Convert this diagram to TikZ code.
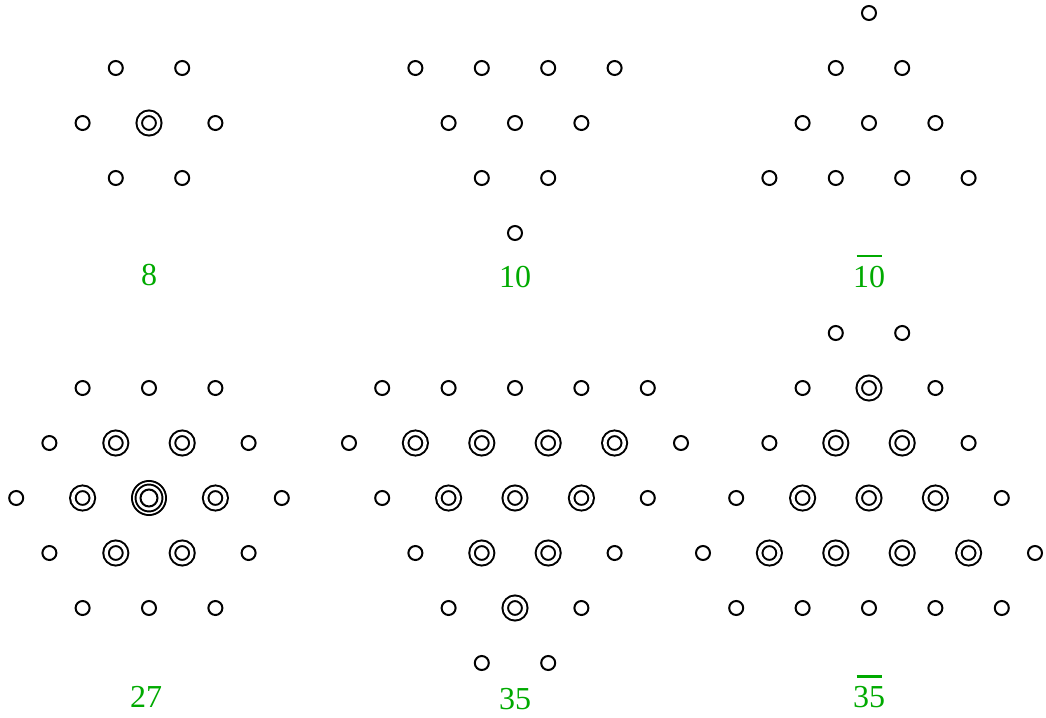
\documentclass[tikz,border=0pt]{standalone}
\usepackage{fontspec}
\setmainfont{Liberation Serif}
\usepackage{xcolor}
\usepackage{tikz}
\definecolor{irrepgreen}{RGB}{0,170,0}

\begin{document}
\begin{tikzpicture}[x=0.5pt, y=-0.5pt, every node/.style={inner sep=0pt},
    wt/.style={circle, draw, line width=1pt, minimum size=7pt},
    wtd/.style={wt, double, double distance=1.75pt, minimum size=9.75pt},
    wtt/.style={wt, double, double distance=0.75pt, minimum size=15.25pt,
        path picture={\draw[line width=1pt] (path picture bounding box.center) circle (4.25pt);}},
    lbl/.style={text=irrepgreen, font=\fontsize{16}{19}\selectfont, anchor=base},
    conj/.style={draw=irrepgreen, line width=1.1pt}]
\useasboundingbox (0,0) rectangle (1046,718);

% octet
\foreach \i/\j [count=\n] in {-1/-1,1/-1,-2/0,2/0,-1/1,1/1}
    \node[wt] (o8-\n) at ({149+33.2*\i},{123+55*\j}) {};
\node[wtd] (o8-c) at (149,123) {};
\node[lbl] (lab8) at (149,285) {8};

% decuplet
\foreach \i/\j [count=\n] in {-3/-1,-1/-1,1/-1,3/-1,-2/0,0/0,2/0,-1/1,1/1,0/2}
    \node[wt] (d10-\n) at ({515+33.2*\i},{123+55*\j}) {};
\node[lbl] (lab10) at (515,287) {10};

% anti-decuplet
\foreach \i/\j [count=\n] in {0/-2,-1/-1,1/-1,-2/0,0/0,2/0,-3/1,-1/1,1/1,3/1}
    \node[wt] (a10-\n) at ({869+33.2*\i},{123+55*\j}) {};
\node[lbl] (lab10b) at (869,287) {10};
\draw[conj] ([xshift=-6.25pt,yshift=4.5pt]lab10b.north) -- ([xshift=6.25pt,yshift=4.5pt]lab10b.north);

% 27-plet
\foreach \i/\j [count=\n] in {-2/-2,0/-2,2/-2,-3/-1,3/-1,-4/0,4/0,-3/1,3/1,-2/2,0/2,2/2}
    \node[wt] (s27-\n) at ({149+33.2*\i},{498+55*\j}) {};
\foreach \i/\j [count=\n] in {-1/-1,1/-1,-2/0,2/0,-1/1,1/1}
    \node[wtd] (t27-\n) at ({149+33.2*\i},{498+55*\j}) {};
\node[wtt] (t27-c) at (149,498) {};
\node[lbl] (lab27) at (146,707) {27};

% 35-plet
\foreach \i/\j [count=\n] in {-4/-2,-2/-2,0/-2,2/-2,4/-2,-5/-1,5/-1,-4/0,4/0,-3/1,3/1,-2/2,2/2,-1/3,1/3}
    \node[wt] (s35-\n) at ({515+33.2*\i},{498+55*\j}) {};
\foreach \i/\j [count=\n] in {-3/-1,-1/-1,1/-1,3/-1,-2/0,0/0,2/0,-1/1,1/1,0/2}
    \node[wtd] (t35-\n) at ({515+33.2*\i},{498+55*\j}) {};
\node[lbl] (lab35) at (515,709) {35};

% anti-35-plet
\foreach \i/\j [count=\n] in {-1/-3,1/-3,-2/-2,2/-2,-3/-1,3/-1,-4/0,4/0,-5/1,5/1,-4/2,-2/2,0/2,2/2,4/2}
    \node[wt] (s35b-\n) at ({869+33.2*\i},{498+55*\j}) {};
\foreach \i/\j [count=\n] in {0/-2,-1/-1,1/-1,-2/0,0/0,2/0,-3/1,-1/1,1/1,3/1}
    \node[wtd] (t35b-\n) at ({869+33.2*\i},{498+55*\j}) {};
\node[lbl] (lab35b) at (869,707) {35};
\draw[conj] ([xshift=-6.25pt,yshift=4.5pt]lab35b.north) -- ([xshift=6.25pt,yshift=4.5pt]lab35b.north);
\end{tikzpicture}
\end{document}
